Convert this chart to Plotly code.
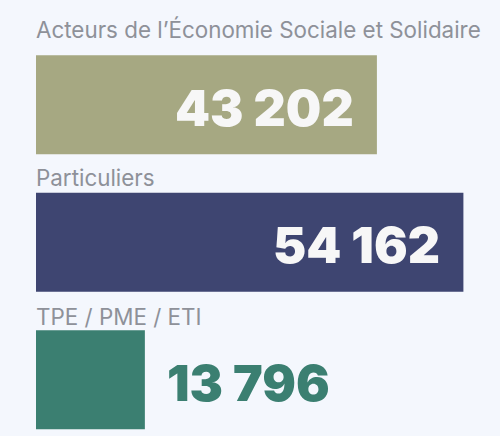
import plotly.graph_objects as go

# data
categories = ["Acteurs de l’Économie Sociale et Solidaire", "Particuliers", "TPE / PME / ETI"]
values = [43202, 54162, 13796]
value_labels = ["43 202", "54 162", "13 796"]
colors = ["#a6a882", "#3e4571", "#3b7f71"]

BG = "#f4f7fd"
label_gap = [15, 4, 3]  # px between label and bar top

fig = go.Figure(go.Bar(
    x=values,
    y=categories,
    orientation="h",
    marker=dict(color=colors, line=dict(width=0)),
    hoverinfo="skip",
))

annotations = []
for i, (cat, val, txt, col) in enumerate(zip(categories, values, value_labels, colors)):
    # category label above the bar
    annotations.append(dict(
        x=0, y=cat, xref="x", yref="y",
        text=cat, showarrow=False,
        xanchor="left", yanchor="bottom",
        yshift=45 + label_gap[i], xshift=-2,
        font=dict(family="Inter", size=22.4, color="#8e9199"),
    ))
    # value: inside for long bars, outside for short ones
    inside = val > 20000
    annotations.append(dict(
        x=val, y=cat, xref="x", yref="y",
        text=txt, showarrow=False,
        xanchor="right" if inside else "left",
        xshift=-21 if inside else 20,
        yanchor="middle", yshift=-3,
        font=dict(family="Inter", size=50, weight=900,
                  color="#f7f7f7" if inside else col),
    ))

fig.update_layout(
    width=500, height=436,
    margin=dict(l=36, r=0, t=36, b=0),
    paper_bgcolor=BG, plot_bgcolor=BG,
    bargap=0.28,
    showlegend=False,
    annotations=annotations,
    xaxis=dict(range=[0, 58800], visible=False, fixedrange=True),
    yaxis=dict(categoryorder="array", categoryarray=categories,
               range=[2.41, -0.5], visible=False, fixedrange=True),
)

fig.write_html(
    "out.html",
    config={"displayModeBar": False},
    post_script="document.body.style.margin='0';document.body.style.background='%s';" % BG,
)
